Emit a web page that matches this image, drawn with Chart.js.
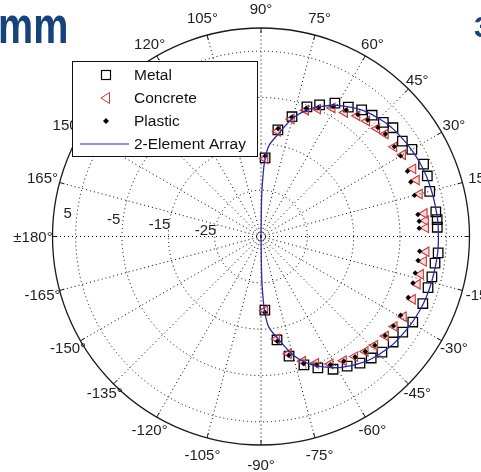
<!DOCTYPE html>
<html><head><meta charset="utf-8">
<script src="https://cdn.jsdelivr.net/npm/chart.js@4/dist/chart.umd.min.js"></script>
<style>
html,body{margin:0;padding:0;background:#fff;width:481px;height:472px;overflow:hidden;}
#wrap{position:relative;width:481px;height:472px;}
canvas{position:absolute;left:0;top:0;}
.hd{position:absolute;font-family:"Liberation Sans",Arial,sans-serif;font-weight:bold;color:#17427a;line-height:1;transform-origin:0 0;white-space:nowrap;}
#t1{left:-2px;top:-1px;font-size:52px;transform:scaleX(0.76);}
#t2{left:474px;top:12px;font-size:30px;}
</style></head><body>
<div id="wrap"><canvas id="c" width="481" height="472"></canvas>
<div class="hd" id="t1">mm</div><div class="hd" id="t2">3</div></div>
<script>
// ---- data (dB values) ----
const dbOffset = 35;          // r = dB + 35
const dbMax = 10;             // outer circle
const ringValues = [-25, -15, -5, 5];
const ringLabels = ['-25', '-15', '-5', '5'];
const spokeAngles = [0,15,30,45,60,75,90,105,120,135,150,165,180,195,210,225,240,255,270,285,300,315,330,345];
const angleLabels = ['0°','15°','30°','45°','60°','75°','90°','105°','120°','135°','150°','165°','±180°','-165°','-150°','-135°','-120°','-105°','-90°','-75°','-60°','-45°','-30°','-15°'];

const markAngles = [87,81,75.5,70.5,66,61,56,51.5,47.5,43,39.5,34,30,24,20,15,8,5.5,3,-5.3,-8.7,-13.3,-17,-22.5,-29.4,-34,-38.6,-43.7,-47.8,-52,-56.4,-61.5,-66.6,-71.5,-76.8,-81.2,-87];
const metal    = [-18.0,-11.7,-8.3,-5.3,-3.9,-2.1,-1.3,-0.1,0.5,1.1,1.9,1.8,2.6,3.4,3.2,2.7,3.1,3.2,3.1,3.4,3.0,2.9,2.7,2.8,2.6,1.9,1.5,1.1,0.4,-0.3,-1.4,-2.4,-4.1,-5.8,-8.5,-12.4,-19.1];
const concrete = [-18.2,-12.0,-8.8,-6.1,-4.9,-3.3,-2.7,-1.7,-1.2,-0.8,-0.2,-0.4,0.3,0.9,0.7,0.4,0.6,0.7,0.6,0.8,0.5,0.4,0.3,0.4,0.3,-0.3,-0.6,-1.0,-1.5,-2.1,-2.8,-3.7,-5.2,-6.6,-9.0,-12.6,-19.0];
const plastic  = [-17.6,-11.4,-8.4,-5.7,-4.5,-2.9,-2.1,-1.4,-0.9,-0.5,-0.2,-0.3,-0.2,-0.4,-0.6,-0.7,-0.8,-0.7,-0.8,-0.6,-0.7,-0.8,-0.7,-0.6,-0.4,-0.5,-0.7,-1.0,-1.5,-2.0,-2.7,-3.5,-4.8,-6.1,-8.7,-12.1,-18.6];

const lineAngles = [-90,-89,-88,-87,-85,-80,-75,-70,-65,-60,-55,-50,-45,-40,-35,-30,-25,-20,-15,-10,-5,0,5,10,15,20,25,30,35,40,45,50,55,60,65,70,75,80,85,87,88,89,90];
const arrayDb    = [-35,-26,-21.3,-18.3,-15.3,-12.3,-8.6,-5.9,-4.0,-2.3,-1.0,0.2,1.0,1.7,2.1,2.5,2.8,3.0,3.1,3.2,3.3,3.3,3.3,3.2,3.1,3.0,2.8,2.5,2.1,1.7,1.0,0.2,-1.0,-2.3,-4.0,-5.9,-8.6,-12.3,-15.3,-18.3,-21.3,-26,-35];

const seriesNames = ['Metal', 'Concrete', 'Plastic', '2-Element Array'];
// ---- end data ----

function toXY(angles, db) {
  return angles.map((a, i) => {
    const r = Math.max(0, db[i] + dbOffset);
    const t = a * Math.PI / 180;
    return { x: r * Math.cos(t), y: r * Math.sin(t) };
  });
}

const FONT = '"Liberation Sans", Arial, sans-serif';
const lineColor = '#2b2ba0';
const concreteColor = '#c23b3b';
const concreteFill = 'rgba(235,150,150,0.35)';

const polarGrid = {
  id: 'polarGrid',
  beforeDatasetsDraw(chart) {
    const { ctx, scales: { x, y } } = chart;
    const cx = x.getPixelForValue(0), cy = y.getPixelForValue(0);
    const k = x.getPixelForValue(1) - cx;
    const R = (dbMax + dbOffset) * k;
    ctx.save();
    ctx.fillStyle = '#fff';
    ctx.beginPath(); ctx.arc(cx, cy, R, 0, 2 * Math.PI); ctx.fill();
    ctx.strokeStyle = '#000'; ctx.lineWidth = 1; ctx.setLineDash([1, 3]);
    ringValues.forEach(v => { ctx.beginPath(); ctx.arc(cx, cy, (v + dbOffset) * k, 0, 2 * Math.PI); ctx.stroke(); });
    spokeAngles.forEach(a => {
      const t = a * Math.PI / 180;
      ctx.beginPath(); ctx.moveTo(cx, cy); ctx.lineTo(cx + R * Math.cos(t), cy - R * Math.sin(t)); ctx.stroke();
    });
    ctx.setLineDash([]);
    ctx.strokeStyle = '#1a1a1a'; ctx.lineWidth = 1.3;
    ctx.beginPath(); ctx.arc(cx, cy, R, 0, 2 * Math.PI); ctx.stroke();
    ctx.lineWidth = 1;
    spokeAngles.forEach(a => {
      const t = a * Math.PI / 180;
      ctx.beginPath();
      ctx.moveTo(cx + R * Math.cos(t), cy - R * Math.sin(t));
      ctx.lineTo(cx + (R - 5) * Math.cos(t), cy - (R - 5) * Math.sin(t));
      ctx.stroke();
    });
    ctx.fillStyle = '#1e1e1e';
    ctx.font = '15px ' + FONT;
    ctx.textAlign = 'center'; ctx.textBaseline = 'middle';
    spokeAngles.forEach((a, i) => {
      const t = a * Math.PI / 180;
      const c2 = Math.cos(2 * t);
      const rl = R + 12.5 + 7 * c2 * c2;
      ctx.fillText(angleLabels[i], cx + rl * Math.cos(t), cy - rl * Math.sin(t) + 1);
    });
    const ta = 173 * Math.PI / 180;
    ringValues.forEach((v, i) => {
      const rl = (v + dbOffset) * k + 9.5;
      ctx.fillText(ringLabels[i], cx + rl * Math.cos(ta), cy - rl * Math.sin(ta) + 1);
    });
    ctx.restore();
  },
  afterDatasetsDraw(chart) {
    const ctx = chart.ctx;
    ctx.save();
    const bx = 72.5, by = 61.5, bw = 185, bh = 95;
    ctx.fillStyle = '#fff'; ctx.fillRect(bx, by, bw, bh);
    ctx.strokeStyle = '#111'; ctx.lineWidth = 1; ctx.strokeRect(bx, by, bw, bh);
    const rows = [75, 98, 121, 144];
    const sx = 106, tx = 134;
    ctx.strokeStyle = '#000'; ctx.lineWidth = 1.2;
    ctx.strokeRect(sx - 4.5, rows[0] - 4.5, 9, 9);
    ctx.strokeStyle = concreteColor; ctx.lineWidth = 1;
    ctx.beginPath(); ctx.moveTo(sx - 5, rows[1]); ctx.lineTo(sx + 3.5, rows[1] - 5.5); ctx.lineTo(sx + 3.5, rows[1] + 5.5); ctx.closePath(); ctx.stroke();
    ctx.fillStyle = '#000';
    ctx.beginPath(); ctx.moveTo(sx, rows[2] - 3); ctx.lineTo(sx + 3, rows[2]); ctx.lineTo(sx, rows[2] + 3); ctx.lineTo(sx - 3, rows[2]); ctx.closePath(); ctx.fill();
    ctx.strokeStyle = lineColor; ctx.lineWidth = 1.2;
    ctx.beginPath(); ctx.moveTo(80, rows[3]); ctx.lineTo(129, rows[3]); ctx.stroke();
    ctx.fillStyle = '#111'; ctx.font = '15.5px ' + FONT;
    ctx.textAlign = 'left'; ctx.textBaseline = 'middle';
    seriesNames.forEach((n, i) => ctx.fillText(n, tx, rows[i] + 1));
    ctx.restore();
  }
};

new Chart(document.getElementById('c'), {
  type: 'scatter',
  data: {
    datasets: [
      { label: seriesNames[3], data: toXY(lineAngles, arrayDb), showLine: true, borderColor: lineColor, borderWidth: 1.3, pointRadius: 0, tension: 0.3, order: 0 },
      { label: seriesNames[0], data: toXY(markAngles, metal), pointStyle: 'rect', pointRadius: 6.7, borderColor: '#000', borderWidth: 1.3, backgroundColor: 'rgba(0,0,0,0)', order: 3 },
      { label: seriesNames[1], data: toXY(markAngles, concrete), pointStyle: 'triangle', rotation: -90, pointRadius: 5.5, borderColor: concreteColor, borderWidth: 1.1, backgroundColor: concreteFill, order: 2 },
      { label: seriesNames[2], data: toXY(markAngles, plastic), pointStyle: 'rectRot', pointRadius: 2.7, borderColor: '#000', borderWidth: 0, backgroundColor: '#000', order: 1 }
    ]
  },
  options: {
    responsive: false, animation: false, devicePixelRatio: 1,
    layout: { padding: { left: 52.5, top: 28, right: 11.5, bottom: 27 } },
    scales: {
      x: { type: 'linear', min: -45, max: 45, display: false },
      y: { type: 'linear', min: -45, max: 45, display: false }
    },
    plugins: { legend: { display: false }, tooltip: { enabled: false } }
  },
  plugins: [polarGrid]
});
</script>
</body></html>
